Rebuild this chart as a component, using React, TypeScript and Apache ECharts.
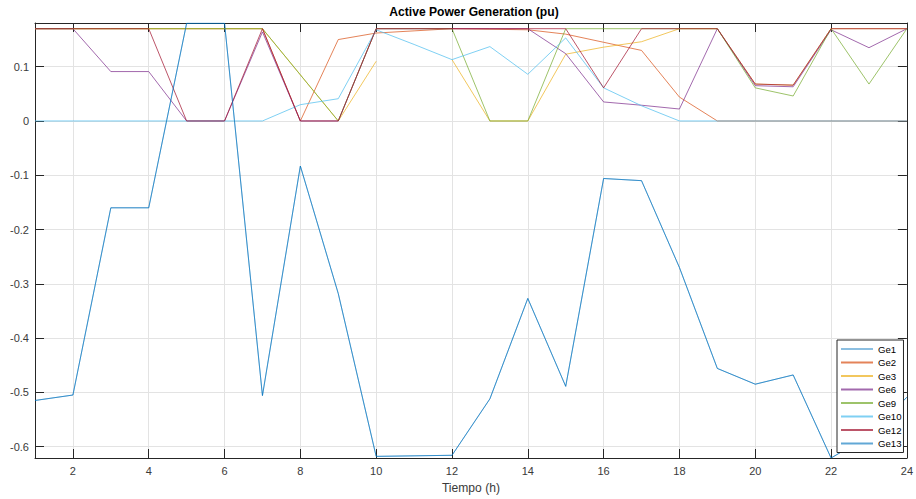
import React, { useEffect, useRef } from "react";
import * as echarts from "echarts";

const hours = [1, 2, 3, 4, 5, 6, 7, 8, 9, 10, 11, 12, 13, 14, 15, 16, 17, 18, 19, 20, 21, 22, 23, 24];

const seriesNames = ["Ge1", "Ge2", "Ge3", "Ge6", "Ge9", "Ge10", "Ge12", "Ge13"];
const seriesColors = ["#0072BD", "#D95319", "#EDB120", "#7E2F8E", "#77AC30", "#4DBEEE", "#A2142F", "#0072BD"];
const seriesOpacity = [0.45, 0.72, 0.72, 0.72, 0.72, 0.72, 0.72, 0.62];

const ge1 = [-0.515, -0.505, -0.16, -0.16, 0.18, 0.18, -0.506, -0.083, -0.318, -0.618, -0.617, -0.616, -0.512, -0.327, -0.489, -0.106, -0.11, -0.27, -0.456, -0.485, -0.468, -0.621, -0.58, -0.509];
const ge2 = [0.17, 0.17, 0.17, 0.17, 0.17, 0.17, 0.17, 0, 0.15, 0.162, 0.166, 0.17, 0.169, 0.168, 0.16, 0.145, 0.13, 0.044, 0, 0, 0, 0, 0, 0];
const ge3 = [0.17, 0.17, 0.17, 0.17, 0.17, 0.17, 0.17, 0.085, 0, 0.11, null, 0.113, 0, 0, 0.123, 0.136, 0.146, 0.17, 0.17, 0.068, 0.066, 0.17, 0.17, 0.17];
const ge6 = [0.17, 0.17, 0.091, 0.091, 0, 0, 0.164, 0, 0, 0.17, 0.17, 0.17, 0.17, 0.17, 0.124, 0.035, 0.029, 0.022, 0.17, 0.065, 0.063, 0.168, 0.135, 0.17];
const ge9 = [0.17, 0.17, 0.17, 0.17, 0.17, 0.17, 0.17, 0.085, 0, 0.17, 0.17, 0.17, 0, 0, 0.17, 0.17, 0.17, 0.17, 0.17, 0.061, 0.046, 0.17, 0.068, 0.17];
const ge10 = [0, 0, 0, 0, 0, 0, 0, 0.03, 0.041, 0.168, 0.141, 0.113, 0.137, 0.086, 0.153, 0.061, 0.028, 0, 0, 0, 0, 0, 0, 0];
const ge12 = [0.17, 0.17, 0.17, 0.17, 0, 0, 0.17, 0, 0, 0.17, 0.17, 0.17, 0.17, 0.17, 0.17, 0.061, 0.17, 0.17, 0.17, 0.068, 0.066, 0.17, 0.17, 0.17];
const ge13 = [-0.515, -0.505, -0.16, -0.16, 0.18, 0.18, -0.506, -0.083, -0.318, -0.618, -0.617, -0.616, -0.512, -0.327, -0.489, -0.106, -0.11, -0.27, -0.456, -0.485, -0.468, -0.621, -0.58, -0.509];

const seriesValues = [ge1, ge2, ge3, ge6, ge9, ge10, ge12, ge13];

const X_MIN = 1;
const X_MAX = 24;
const Y_MIN = -0.621;
const Y_MAX = 0.1805;

const AXIS_COLOR = "#262626";
const LABEL_COLOR = "#3a3a3a";
const FONT = "Liberation Sans, Arial, Helvetica, sans-serif";

export default function App() {
  const ref = useRef<HTMLDivElement>(null);

  useEffect(() => {
    if (!ref.current) return;
    const chart = echarts.init(ref.current, null, { renderer: "svg" });

    const baseX = {
      type: "value",
      min: X_MIN,
      max: X_MAX,
      splitNumber: 12,
      axisLine: { show: true, onZero: false, lineStyle: { color: AXIS_COLOR, width: 1 } },
      axisTick: { show: true, inside: true, length: 9, lineStyle: { color: AXIS_COLOR } },
    };
    const baseY = {
      type: "value",
      min: Y_MIN,
      max: Y_MAX,
      splitNumber: 8,
      axisLine: { show: true, onZero: false, lineStyle: { color: AXIS_COLOR, width: 1 } },
      axisTick: { show: true, inside: true, length: 9, lineStyle: { color: AXIS_COLOR } },
    };

    chart.setOption({
      animation: false,
      backgroundColor: "#ffffff",
      textStyle: { fontFamily: FONT },
      title: {
        text: "Active Power Generation (pu)",
        left: 474,
        top: 6,
        padding: 0,
        textAlign: "center",
        textStyle: { fontSize: 12.1, fontWeight: "bold", color: "#000", fontFamily: FONT },
      },
      grid: { left: 35, right: 3, top: 23, bottom: 36, containLabel: false },
      xAxis: [
        {
          ...baseX,
          position: "bottom",
          name: "Tiempo (h)",
          nameLocation: "middle",
          nameGap: 24,
          nameTextStyle: { fontSize: 12.1, color: LABEL_COLOR, fontFamily: FONT },
          axisLabel: {
            show: true,
            margin: 7,
            fontSize: 11,
            color: LABEL_COLOR,
            fontFamily: FONT,
            showMinLabel: false,
            alignMaxLabel: "center",
          },
          splitLine: { show: true, lineStyle: { color: "#e3e3e3", width: 1 } },
        },
        {
          ...baseX,
          position: "top",
          axisLabel: { show: false },
          splitLine: { show: false },
        },
      ],
      yAxis: [
        {
          ...baseY,
          position: "left",
          axisLabel: {
            show: true,
            margin: 6,
            fontSize: 11,
            color: LABEL_COLOR,
            fontFamily: FONT,
            showMinLabel: false,
            showMaxLabel: false,
          },
          splitLine: { show: true, lineStyle: { color: "#e3e3e3", width: 1 } },
        },
        {
          ...baseY,
          position: "right",
          axisLabel: { show: false },
          splitLine: { show: false },
        },
      ],
      legend: {
        orient: "vertical",
        left: 837,
        top: 340,
        itemWidth: 32,
        itemHeight: 10,
        itemGap: 3.5,
        padding: [4, 2, 4, 3],
        borderColor: AXIS_COLOR,
        borderWidth: 1,
        backgroundColor: "#ffffff",
        itemStyle: { opacity: 0, borderWidth: 0 },
        textStyle: { fontSize: 9.6, color: "#000", fontFamily: FONT },
        data: seriesNames,
      },
      series: seriesNames.map((name, i) => ({
        name,
        type: "line",
        xAxisIndex: 0,
        yAxisIndex: 0,
        symbol: "none",
        showSymbol: false,
        connectNulls: false,
        clip: true,
        color: seriesColors[i],
        lineStyle: { color: seriesColors[i], width: 1, opacity: seriesOpacity[i] },
        data: hours.map((h, j) => [h, seriesValues[i][j]]),
      })),
    });

    return () => chart.dispose();
  }, []);

  return (
    <div
      ref={ref}
      style={{ position: "fixed", left: 0, top: 0, width: 916, height: 499 }}
    />
  );
}
